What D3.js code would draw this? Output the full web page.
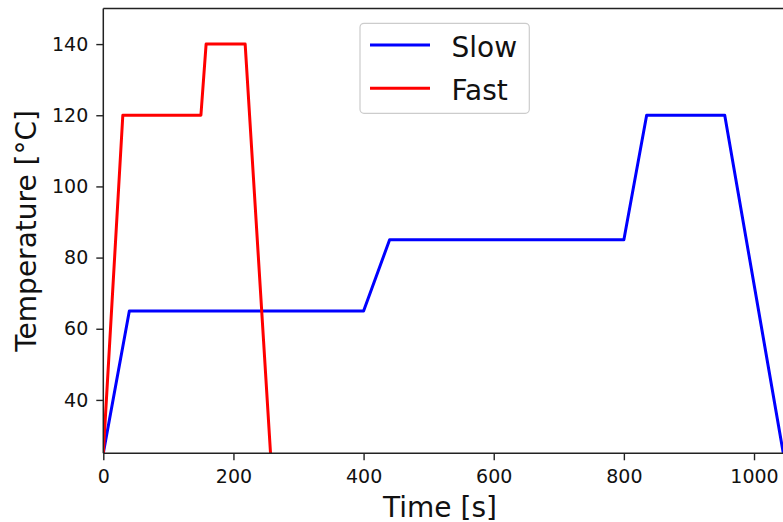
<!DOCTYPE html>
<html>
<head>
<meta charset="utf-8">
<script src="https://cdn.jsdelivr.net/npm/d3@7"></script>
<style>
  html, body { margin: 0; padding: 0; background: #fff; }
  svg { display: block; }
  text { font-family: "DejaVu Sans", sans-serif; fill: #111; }
</style>
</head>
<body>
<svg id="chart" width="783" height="522"></svg>
<script>
// Data
const seriesNames = ["Slow", "Fast"];
const seriesColors = ["#0000ff", "#ff0000"];
const slowTime = [0, 40, 400, 440, 800, 835, 955, 1045];
const slowTemp = [25, 65, 65, 85, 85, 120, 120, 25];
const fastTime = [0, 30, 150, 158, 218, 257];
const fastTemp = [25, 120, 120, 140, 140, 25];
const xTicks = [0, 200, 400, 600, 800, 1000];
const yTicks = [40, 60, 80, 100, 120, 140];
const xLabel = "Time [s]";
const yLabel = "Temperature [°C]";

(function () {
const svg = d3.select("#chart");
const pL = 103.3, pR = 783.3, pT = 8.5, pB = 453.3;

const x = d3.scaleLinear().domain([0, 1045]).range([pL, pR]);
const y = d3.scaleLinear().domain([25, 150]).range([pB, pT]);

svg.append("defs").append("clipPath").attr("id", "clip")
  .append("rect").attr("x", pL).attr("y", pT)
  .attr("width", pR - pL).attr("height", pB - pT);

const line = d3.line().x(d => x(d[0])).y(d => y(d[1]));
const series = [
  d3.zip(slowTime, slowTemp),
  d3.zip(fastTime, fastTemp)
];
const g = svg.append("g").attr("clip-path", "url(#clip)");
series.forEach((s, i) => {
  g.append("path").datum(s)
    .attr("d", line)
    .attr("fill", "none")
    .attr("stroke", seriesColors[i])
    .attr("stroke-width", 3)
    .attr("stroke-linejoin", "round")
    .attr("stroke-linecap", "butt");
});

// Axes
const fmt = d3.format("d");
const xAxis = d3.axisBottom(x).tickValues(xTicks).tickFormat(fmt).tickSize(7).tickPadding(9);
const yAxis = d3.axisLeft(y).tickValues(yTicks).tickFormat(fmt).tickSize(7).tickPadding(8);

const gx = svg.append("g").attr("transform", `translate(0,${pB})`).call(xAxis);
const gy = svg.append("g").attr("transform", `translate(${pL},0)`).call(yAxis);
[gx, gy].forEach(a => {
  a.select(".domain").remove();
  a.selectAll(".tick line").attr("stroke", "#222").attr("stroke-width", 1.4);
  a.selectAll(".tick text").style("font-family", "DejaVu Sans, sans-serif")
    .style("font-size", "19px").attr("fill", "#111");
});

// Spines (left, bottom, top)
svg.append("line").attr("x1", pL).attr("x2", pL).attr("y1", pT).attr("y2", pB)
  .attr("stroke", "#222").attr("stroke-width", 1.5);
svg.append("line").attr("x1", pL).attr("x2", 790).attr("y1", pB).attr("y2", pB)
  .attr("stroke", "#222").attr("stroke-width", 1.5);
svg.append("line").attr("x1", pL).attr("x2", 790).attr("y1", pT).attr("y2", pT)
  .attr("stroke", "#222").attr("stroke-width", 1.5);

// Axis labels
svg.append("text").attr("x", 440).attr("y", 516.5)
  .attr("text-anchor", "middle").style("font-size", "28px").text(xLabel);
svg.append("text")
  .attr("transform", `translate(36,${(pT + pB) / 2}) rotate(-90)`)
  .attr("text-anchor", "middle").style("font-size", "28px").text(yLabel);

// Legend
const lg = svg.append("g");
lg.append("rect").attr("x", 360).attr("y", 23.3).attr("width", 169.3).attr("height", 90)
  .attr("rx", 4).attr("fill", "#fff").attr("fill-opacity", 0.8)
  .attr("stroke", "#cccccc").attr("stroke-width", 1.2);
seriesNames.forEach((n, i) => {
  const ly = 45 + i * 43.3;
  lg.append("line").attr("x1", 370).attr("x2", 430).attr("y1", ly).attr("y2", ly)
    .attr("stroke", seriesColors[i]).attr("stroke-width", 3);
  lg.append("text").attr("x", 451.5).attr("y", ly + 11.5)
    .style("font-size", "28px").text(n);
});
})();
</script>
</body>
</html>
